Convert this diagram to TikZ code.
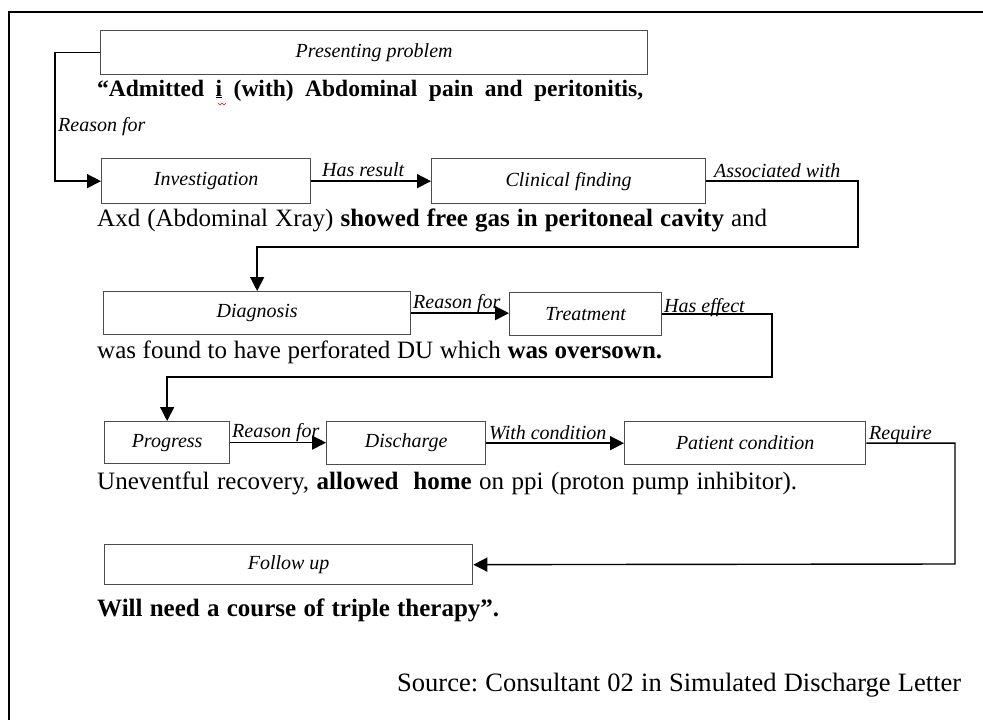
\documentclass[tikz,border=0pt]{standalone}
\usepackage{fontspec}
\setmainfont{Liberation Serif}
\usetikzlibrary{arrows.meta}
\frenchspacing
\begin{document}
\begin{tikzpicture}[x=1pt,y=-1pt,
  box/.style={draw=black!70, line width=1.3pt, fill=white, inner sep=0pt, anchor=north west, font=\fontsize{20}{23}\selectfont\itshape},
  conn/.style={draw=black, line width=1.4pt},
  arr/.style={conn, -{Triangle[length=14pt,width=14pt]}},
  lbl/.style={anchor=base west, inner sep=0pt, font=\fontsize{20}{23}\selectfont\itshape},
  body/.style={anchor=base west, inner sep=0pt, font=\fontsize{25}{29}\selectfont},
  src/.style={anchor=base west, inner sep=0pt, font=\fontsize{26.5}{30}\selectfont},
]
\useasboundingbox (0,0) rectangle (983,720);
\draw[line width=2pt] (9,720) -- (9,12) -- (983,12);

% boxes
\node[box, minimum width=547pt, minimum height=44pt] (pp) at (100,30) {Presenting problem};
\node[box, minimum width=209pt, minimum height=45pt] (inv) at (101,158) {Investigation};
\node[box, minimum width=274pt, minimum height=45pt] (cf) at (431,158) {Clinical finding};
\node[box, minimum width=307pt, minimum height=43pt] (diag) at (103,291) {Diagnosis};
\node[box, minimum width=152pt, minimum height=43pt] (treat) at (509,292) {Treatment};
\node[box, minimum width=125pt, minimum height=42pt] (prog) at (104,421) {Progress};
\node[box, minimum width=159pt, minimum height=43pt] (dis) at (326,421) {Discharge};
\node[box, minimum width=241pt, minimum height=43pt] (pc) at (624,421) {Patient condition};
\node[box, minimum width=368pt, minimum height=40pt] (fu) at (104,544) {Follow up};

% bend points
\coordinate (k0) at (55,100);
\coordinate (k1) at (858,247);
\coordinate (k2) at (772,377);
\coordinate (k3) at (955,564);

% connectors
\draw[arr] (pp.west) -| (k0) |- (inv.west);
\draw[arr] (inv.east) -- (inv.east -| cf.west);
\draw[arr] (cf.east) -| (k1) -| (diag.north);
\draw[arr] (diag.east) -- (diag.east -| treat.west);
\draw[arr] (treat.east) -| (k2) -| (prog.north);
\draw[arr] (prog.east) -- (prog.east -| dis.west);
\draw[arr] (dis.east) -- (dis.east -| pc.west);
\draw[arr] (pc.east) -| (k3) -- (fu.east);

% connector labels
\node[lbl] (l1) at (58,131) {Reason for};
\node[lbl] (l2) at (322,176) {Has result};
\node[lbl] (l3) at (714,177) {Associated with};
\node[lbl] (l4) at (413,308) {Reason for};
\node[lbl] (l5) at (664,312) {Has effect};
\node[lbl] (l6) at (232,437) {Reason for};
\node[lbl] (l7) at (489,439) {With condition};
\node[lbl] (l8) at (869,439) {Require};

% body text
\node[body, font=\fontsize{23.5}{28}\selectfont] (t1) at (97,96) {\makebox[546pt][s]{\bfseries “Admitted \underline{i} (with) Abdominal pain and peritonitis,}};
\draw[red, line width=0.6pt] (218,103) -- (220,105) -- (222,103) -- (224,105) -- (226,103);
\node[body] (t2) at (97,226) {\makebox[670pt][s]{Axd (Abdominal Xray) \textbf{showed free gas in peritoneal cavity} and}};
\node[body] (t3) at (97,358) {\makebox[565pt][s]{was found to have perforated DU which \textbf{was oversown.}}};
\node[body] (t4) at (97,489) {\makebox[700pt][s]{Uneventful recovery, \textbf{allowed\ \ home} on ppi (proton pump inhibitor).}};
\node[body] (t5) at (97,616) {\makebox[402pt][s]{\bfseries Will need a course of triple therapy”.}};
\node[src] (s1) at (397,691) {\makebox[564pt][s]{Source: Consultant 02 in Simulated Discharge Letter}};
\end{tikzpicture}
\end{document}
